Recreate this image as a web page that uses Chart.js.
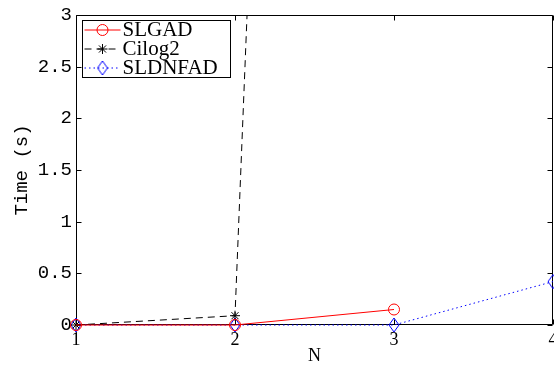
<!DOCTYPE html>
<html><head><meta charset="utf-8">
<script src="https://cdn.jsdelivr.net/npm/chart.js@4/dist/chart.umd.min.js"></script>
<style>html,body{margin:0;padding:0;background:#fff}canvas{display:block}</style>
</head><body>
<canvas id="c" width="554" height="369"></canvas>
<script>
const categories = [1, 2, 3, 4];
const slgad = [0, 0, 0.15];
const cilog2 = [0, 0.09, 38.5];
const sldnfad = [0, 0, 0, 0.42];
const seriesNames = ['SLGAD', 'Cilog2', 'SLDNFAD'];
const xTicks = [1, 2, 3, 4];
const yTicks = [0, 0.5, 1, 1.5, 2, 2.5, 3];

function pts(vals) { return vals.map((v, i) => ({x: categories[i], y: v})); }

// diamond marker (taller than wide)
const dia = document.createElement('canvas');
dia.width = 12; dia.height = 16;
(function(){ const g = dia.getContext('2d'); g.strokeStyle = '#0000ff'; g.lineWidth = 1;
  g.beginPath(); g.moveTo(6, 1); g.lineTo(11, 8); g.lineTo(6, 15); g.lineTo(1, 8); g.closePath(); g.stroke(); })();

const framePlugin = {
  id: 'frame',
  beforeDatasetsDraw(chart) {
    const {ctx, chartArea: a, scales: {x, y}} = chart;
    ctx.save();
    ctx.strokeStyle = '#000'; ctx.lineWidth = 1;
    const L = Math.round(a.left) + 0.5, R = Math.round(a.right) - 0.5, T = Math.round(a.top) + 0.5, B = Math.round(a.bottom) - 0.5;
    ctx.beginPath();
    ctx.rect(L, T, R - L, B - T);
    x.ticks.forEach(t => { const p = Math.round(x.getPixelForValue(t.value)) + 0.5;
      ctx.moveTo(p, B); ctx.lineTo(p, B - 5); ctx.moveTo(p, T); ctx.lineTo(p, T + 5); });
    y.ticks.forEach(t => { const p = Math.round(y.getPixelForValue(t.value)) + 0.5;
      ctx.moveTo(L, p); ctx.lineTo(L + 5, p); ctx.moveTo(R, p); ctx.lineTo(R - 5, p); });
    ctx.stroke();
    ctx.restore();
  }
};

const legendPlugin = {
  id: 'boxLegend',
  afterDraw(chart) {
    const {ctx, chartArea: a} = chart;
    const bx = a.left + 6.5, by = a.top + 5.5, bw = 148, bh = 57;
    ctx.save();
    ctx.fillStyle = '#fff'; ctx.strokeStyle = '#000'; ctx.lineWidth = 1;
    ctx.fillRect(bx, by, bw, bh); ctx.strokeRect(bx, by, bw, bh);
    ctx.font = '21px "Liberation Serif"';
    ctx.textBaseline = 'middle'; ctx.textAlign = 'left';
    chart.data.datasets.forEach((ds, i) => {
      const yy = by + 9.5 + i * 19;
      ctx.save();
      ctx.strokeStyle = ds.borderColor; ctx.lineWidth = ds.borderWidth;
      ctx.setLineDash(ds.borderDash || []);
      ctx.beginPath(); ctx.moveTo(bx + 2, yy); ctx.lineTo(bx + 38, yy); ctx.stroke();
      ctx.setLineDash([]);
      ctx.strokeStyle = ds.pointBorderColor || ds.borderColor;
      ctx.fillStyle = 'rgba(0,0,0,0)';
      Chart.helpers.drawPoint(ctx, {pointStyle: ds.pointStyle, radius: ds.pointRadius, rotation: 0, borderWidth: 1}, bx + 20, yy);
      ctx.restore();
      ctx.fillStyle = '#000';
      ctx.fillText(ds.label, bx + 40, yy);
    });
    ctx.restore();
  }
};

new Chart(document.getElementById('c'), {
  type: 'line',
  data: {
    datasets: [
      {label: seriesNames[0], data: pts(slgad), borderColor: '#ff0000', borderWidth: 1,
       pointStyle: 'circle', pointRadius: 5.5, pointBorderColor: '#ff0000', pointBackgroundColor: 'rgba(0,0,0,0)', pointBorderWidth: 1,
       clip: {left: 12, right: 12, top: 0, bottom: 12}},
      {label: seriesNames[1], data: pts(cilog2), borderColor: '#000000', borderWidth: 1, borderDash: [7, 5],
       pointStyle: 'star', pointRadius: 5, pointBorderColor: '#000000', pointBorderWidth: 1,
       clip: {left: 12, right: 12, top: 0, bottom: 12}},
      {label: seriesNames[2], data: pts(sldnfad), borderColor: '#0000ff', borderWidth: 1, borderDash: [1.5, 3],
       pointStyle: dia, pointRadius: 6, pointBorderColor: '#0000ff', pointBorderWidth: 1,
       clip: {left: 12, right: 12, top: 0, bottom: 12}}
    ]
  },
  options: {
    responsive: false, animation: false, devicePixelRatio: 1,
    layout: {autoPadding: false, padding: {top: 15, right: 1, left: 0, bottom: 0}},
    plugins: {legend: {display: false}, tooltip: {enabled: false}},
    elements: {line: {tension: 0}},
    scales: {
      x: {type: 'linear', min: 1, max: 4,
        afterBuildTicks: s => { s.ticks = xTicks.map(v => ({value: v})); },
        afterFit: s => { s.height = 44; s.paddingLeft = 0; s.paddingRight = 0; },
        grid: {display: false, drawTicks: false},
        border: {display: false},
        ticks: {padding: 4, color: '#000', font: {family: 'Liberation Serif', size: 18}, maxRotation: 0,
                callback: v => String(v)},
        title: {display: true, text: 'N', color: '#000', font: {family: 'Liberation Serif', size: 18}, padding: {top: 0, bottom: 2}}
      },
      y: {type: 'linear', min: 0, max: 3,
        afterBuildTicks: s => { s.ticks = yTicks.map(v => ({value: v})); },
        afterFit: s => { s.width = 76; s.paddingTop = 0; s.paddingBottom = 0; },
        grid: {display: false, drawTicks: false},
        border: {display: false},
        ticks: {padding: 4, color: '#000', font: {family: 'Liberation Mono', size: 19},
                callback: v => String(v)},
        title: {display: true, text: 'Time (s)', color: '#000', font: {family: 'Liberation Mono', size: 19}, padding: {top: 11, bottom: 0}}
      }
    }
  },
  plugins: [framePlugin, legendPlugin]
});
</script>
</body></html>
